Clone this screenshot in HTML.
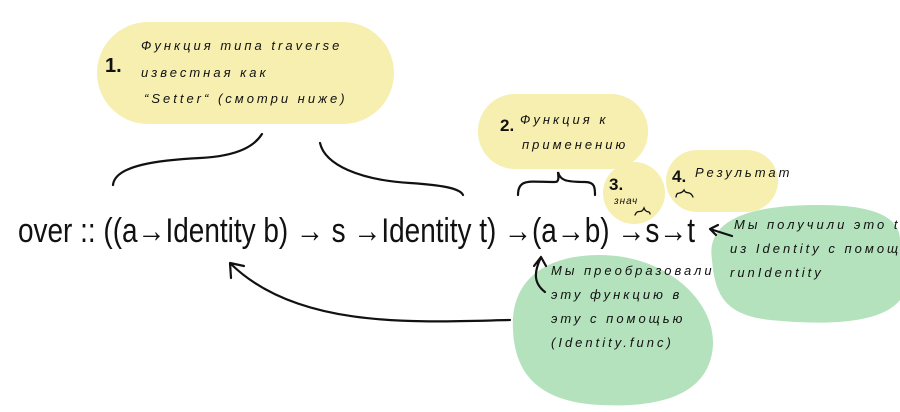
<!DOCTYPE html>
<html><head><meta charset="utf-8"><style>
html,body{margin:0;padding:0;background:#fff;width:900px;height:412px;overflow:hidden}
svg text{font-family:"Liberation Sans","DejaVu Sans",sans-serif;fill:#111}
</style></head><body>
<svg width="900" height="412" viewBox="0 0 900 412" xmlns="http://www.w3.org/2000/svg">
<g fill="#f6efb0">
<rect x="97" y="22" width="297" height="102" rx="51"/>
<rect x="478" y="94" width="170" height="75" rx="37"/>
<circle cx="634" cy="193" r="31"/>
<rect x="666" y="150" width="112" height="62" rx="31"/>
</g>
<g fill="#b4e2bd">
<path d="M712 260 C705 215 760 205 820 205 C880 205 900 220 900 240 L900 300 C880 325 820 325 770 320 C725 315 715 295 712 260Z"/>
<path d="M513 330 C510 280 545 255 600 255 C665 255 715 300 713 345 C710 395 660 408 600 405 C540 402 515 375 513 330Z"/>
</g>
<g fill="none" stroke="#111" stroke-width="2.2" stroke-linecap="round">
<path d="M113 185 C115 165 160 160 200 158 C240 156 255 145 262 134"/>
<path d="M320 143 C325 165 360 180 410 183 C440 185 460 188 463 195"/>
<path d="M518 195 C518 178 530 182 555 182 C560 182 558 175 558 172 C560 180 565 182 585 182 C595 182 595 188 595 195"/>
<path d="M510 320 C420 322 300 330 232 265"/>
<path d="M230 263 L231 278 M230 263 L244 266"/>
<path d="M545 292 C532 282 535 270 541 257 M541 257 L534 266 M541 257 L546 266"/>
<path d="M732 236 L710 229 M710 229 L718 225 M710 229 L716 235"/>
<path d="M635 215 C638 208 641 215 644 208 C646 214 650 210 650 214" stroke-width="1.3"/>
<path d="M676 197 C677 190 680 196 684 190 C686 195 690 190 693 197" stroke-width="1.3"/>
</g>
<text x="18" y="242" font-size="34" textLength="677" lengthAdjust="spacingAndGlyphs">over :: ((a→Identity b) → s →Identity t) →(a→b) →s→t</text>
<g font-size="13" font-style="italic" letter-spacing="3">
<text x="105" y="72" font-size="20" font-weight="bold" font-style="normal" letter-spacing="0">1.</text>
<text x="141" y="50">Функция типа traverse</text>
<text x="141" y="77">известная как</text>
<text x="144" y="103">“Setter“ (смотри ниже)</text>
<text x="500" y="131" font-size="17" font-weight="bold" font-style="normal" letter-spacing="0">2.</text>
<text x="520" y="124">Функция к</text>
<text x="522" y="149">применению</text>
<text x="609" y="190" font-size="17" font-weight="bold" font-style="normal" letter-spacing="0">3.</text>
<text x="614" y="204" font-size="10" letter-spacing="1">знач</text>
<text x="672" y="182" font-size="17" font-weight="bold" font-style="normal" letter-spacing="0">4.</text>
<text x="695" y="177">Результат</text>
<text x="734" y="229">Мы получили это t</text>
<text x="730" y="253">из Identity с помощью</text>
<text x="730" y="277">runIdentity</text>
<text x="551" y="275">Мы преобразовали</text>
<text x="551" y="299">эту функцию в</text>
<text x="551" y="323">эту с помощью</text>
<text x="551" y="347">(Identity.func)</text>
</g>
</svg>
</body></html>
